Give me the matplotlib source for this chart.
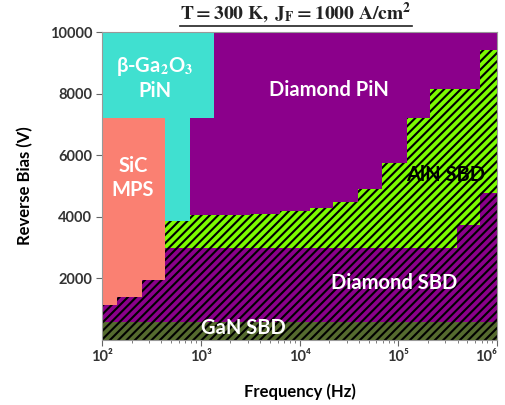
import numpy as np
import matplotlib.pyplot as plt
from matplotlib.lines import Line2D
from matplotlib.transforms import IdentityTransform

plt.rcParams['font.family'] = ['Lato', 'DejaVu Sans']
plt.rcParams['mathtext.fontset'] = 'stix'
plt.rcParams['hatch.linewidth'] = 1.5

# region boundaries (Hz, V)
gan_freq = [100, 1e6]
gan_top = [600, 600]

sbd_freq = [100, 394000, 673000, 1e6]
sbd_top = [3000, 3730, 4770, 4770]

aln_freq = [435, 3150, 6350, 12800, 21800, 39100, 68400, 123000, 210000, 394000, 673000, 1e6]
aln_bottom = [3000, 3000, 3000, 3000, 3000, 3000, 3000, 3000, 3000, 3730, 4770, 4770]
aln_top = [4050, 4100, 4200, 4300, 4480, 4900, 5750, 7200, 8150, 8150, 9400, 9400]

ga2o3_freq = [100, 778, 1360]
ga2o3_bottom = [3860, 7200, 7200]
ga2o3_top = [10000, 10000, 10000]

sic_freq = [100, 142, 254, 435]
sic_bottom = [1150, 1400, 1950, 1950]
sic_top = [7200, 7200, 7200, 7200]

y_ticks = [2000, 4000, 6000, 8000, 10000]
x_ticks = [1e2, 1e3, 1e4, 1e5, 1e6]
x_labels = ['10²', '10³', '10⁴', '10⁵', '10⁶']

purple = '#8B008B'

fig = plt.figure(figsize=(5.06, 4.05), dpi=100)
ax = fig.add_axes([102/506, 65/405, 395/506, 308/405])
ax.set_facecolor(purple)

ax.fill_between(sbd_freq, 600, sbd_top, step='post', facecolor=purple,
                edgecolor='black', hatch='////', linewidth=0)
ax.fill_between(gan_freq, 0, gan_top, step='post', facecolor='#556B2F',
                edgecolor='black', hatch='////', linewidth=0)
ax.fill_between(aln_freq, aln_bottom, aln_top, step='post', facecolor='#7CFC00',
                edgecolor='black', hatch='////', linewidth=0)
ax.fill_between(ga2o3_freq, ga2o3_bottom, ga2o3_top, step='post', color='#40E0D0', linewidth=0)
ax.fill_between(sic_freq, sic_bottom, sic_top, step='post', color='#FA8072', linewidth=0)

ax.set_xscale('log')
ax.set_xlim(1e2, 1e6)
ax.set_ylim(0, 10000)
ax.set_xticks(x_ticks, x_labels)
ax.set_yticks(y_ticks)
for lab in ax.get_xticklabels() + ax.get_yticklabels():
    lab.set_fontweight('bold')
    lab.set_color('#333333')
ax.get_xticklabels()[-1].set_ha('right')
ax.tick_params(axis='both', labelsize=10.5, length=4, color='#666666', pad=3)
ax.tick_params(axis='x', which='minor', length=2, color='#666666')
for s in ax.spines.values():
    s.set_color('#999999')
    s.set_linewidth(0.8)

ax.set_xlabel('Frequency (Hz)', fontsize=12, fontweight='bold', labelpad=14)
ax.set_ylabel('Reverse Bias (V)', fontsize=12, fontweight='bold', labelpad=12)

lbl = dict(fontsize=14.5, fontweight='bold', ha='center', va='center')
ax.text(344, 8500, 'β-Ga$_\\mathbf{2}$O$_\\mathbf{3}$\nPiN', color='white', linespacing=1.2, **lbl)
ax.text(206, 5260, 'SiC\nMPS', color='white', linespacing=1.3, **lbl)
ax.text(19900, 8120, 'Diamond PiN', color='white', **lbl)
ax.text(305000, 5360, 'AlN SBD', color='black', **lbl)
ax.text(90600, 1850, 'Diamond SBD', color='white', **lbl)
ax.text(2680, 390, 'GaN SBD', color='white', **lbl)

title = fig.text(296/506, 1 - 13/405, r'$\mathbf{T = 300\ K,\ J_F = 1000\ A/cm^2}$',
                 ha='center', va='center', fontsize=14, color='#222222')
fig.canvas.draw()
bb = title.get_window_extent()
fig.add_artist(Line2D([bb.x0, bb.x1], [bb.y0 - 1, bb.y0 - 1], transform=IdentityTransform(),
                      color='#222222', linewidth=1.2))

fig.savefig('out.png', dpi=100)
